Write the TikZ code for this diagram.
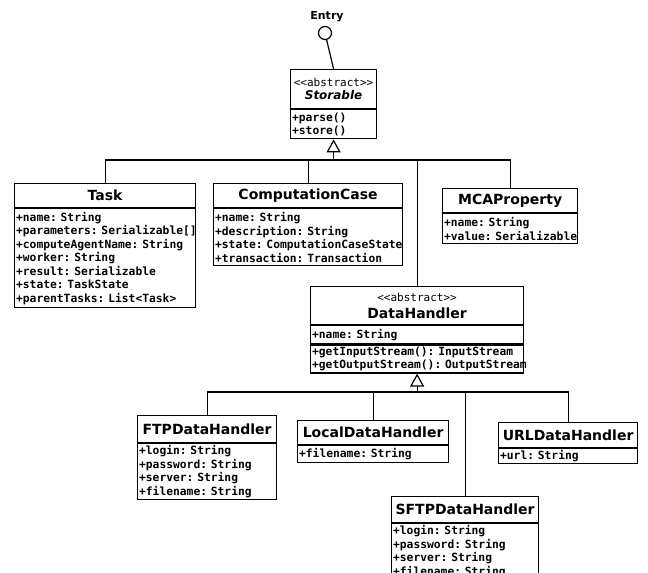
\documentclass[tikz,border=0pt]{standalone}
\usepackage{fontspec}
\setmainfont{DejaVu Sans}
\newfontfamily\umlmono{DejaVu Sans Mono}
\usetikzlibrary{arrows.meta}

\tikzset{
	classname/.style={draw, line width=1.2pt, anchor=north west, inner sep=0pt, align=center, font=\fontsize{14}{16}\selectfont\bfseries},
	classbody/.style={draw, line width=1.2pt, anchor=north west, inner xsep=1.5pt, inner ysep=0pt, align=left, font=\umlmono\fontsize{11.3}{13.5}\selectfont\bfseries\frenchspacing, execute at begin node={\lefthyphenmin=64\relax\hyphenpenalty=10000\relax}},
	inherit/.style={line width=1.2pt, -{Triangle[open, length=13pt, width=14pt]}},
	link/.style={line width=1.2pt}
}
\newcommand{\abstractstereo}{{\umlmono\fontsize{11}{12}\selectfont\mdseries <{}<abstract>{}>}}

\begin{document}
\begin{tikzpicture}[x=1pt, y=-1pt]
	\clip (0,0) rectangle (648,573);
	\node[font=\fontsize{11}{12}\selectfont\bfseries] (entrylabel) at (327,17) {Entry};
	\node[draw, circle, line width=1.2pt, minimum size=13pt, inner sep=0pt] (entry) at (325,33) {};
	\node[classname, minimum width=86pt, minimum height=39pt, font=\fontsize{12}{13}\selectfont] (storable) at (290,69) {\abstractstereo\\{\bfseries\itshape Storable}};
	\node[classbody, text width=83pt, minimum height=29pt] (storable-ops) at (storable.south west) {+parse()\\+store()};
	\node[classname, minimum width=181pt, minimum height=24pt] (task) at (14,183) {Task};
	\node[classbody, text width=178pt, minimum height=99pt] (task-attr) at (task.south west) {+name:~String\\+parameters:~Serializable[]\\+computeAgentName:~String\\+worker:~String\\+result:~Serializable\\+state:~TaskState\\+parentTasks:~List<Task>};
	\node[classname, minimum width=189pt, minimum height=24pt] (compcase) at (213,183) {ComputationCase};
	\node[classbody, text width=186pt, minimum height=57pt] (compcase-attr) at (compcase.south west) {+name:~String\\+description:~String\\+state:~ComputationCaseState\\+transaction:~Transaction};
	\node[classname, minimum width=135pt, minimum height=24pt] (mcaprop) at (442,188) {MCAProperty};
	\node[classbody, text width=132pt, minimum height=30pt] (mcaprop-attr) at (mcaprop.south west) {+name:~String\\+value:~Serializable};
	\node[classname, minimum width=213pt, minimum height=38pt, font=\fontsize{14}{17}\selectfont\bfseries] (datahandler) at (310,286) {\abstractstereo\\DataHandler};
	\node[classbody, text width=210pt, minimum height=18pt] (datahandler-attr) at (datahandler.south west) {+name:~String};
	\node[classbody, text width=210pt, minimum height=28pt] (datahandler-ops) at (datahandler-attr.south west) {+getInputStream():~InputStream\\+getOutputStream():~OutputStream};
	\node[classname, minimum width=139pt, minimum height=27pt] (ftp) at (137,415) {FTPDataHandler};
	\node[classbody, text width=136pt, minimum height=56pt] (ftp-attr) at (ftp.south west) {+login:~String\\+password:~String\\+server:~String\\+filename:~String};
	\node[classname, minimum width=151pt, minimum height=24pt] (local) at (297,420) {LocalDataHandler};
	\node[classbody, text width=148pt, minimum height=17pt] (local-attr) at (local.south west) {+filename:~String};
	\node[classname, minimum width=139pt, minimum height=25pt] (url) at (498,422) {URLDataHandler};
	\node[classbody, text width=136pt, minimum height=15pt] (url-attr) at (url.south west) {+url:~String};
	\node[classname, minimum width=147pt, minimum height=26pt] (sftp) at (391,496) {SFTPDataHandler};
	\node[classbody, text width=144pt, minimum height=56pt] (sftp-attr) at (sftp.south west) {+login:~String\\+password:~String\\+server:~String\\+filename:~String};
	\coordinate (storable-join) at (storable-ops.south |- 0,160);
	\coordinate (datahandler-join) at (datahandler-ops.south |- 0,392);
	\draw [link] (entry) -- (storable.north);
	\draw [link] (task.north) |- (storable-join);
	\draw [link] (compcase.north) |- (storable-join);
	\draw [link] (mcaprop.north) |- (storable-join);
	\draw [link] (datahandler.north) |- (storable-join);
	\draw [inherit] (storable-join) -- (storable-ops.south);
	\draw [link] (ftp.north) |- (datahandler-join);
	\draw [link] (local.north) |- (datahandler-join);
	\draw [link] (url.north) |- (datahandler-join);
	\draw [link] (sftp.north) |- (datahandler-join);
	\draw [inherit] (datahandler-join) -- (datahandler-ops.south);
\end{tikzpicture}
\end{document}
